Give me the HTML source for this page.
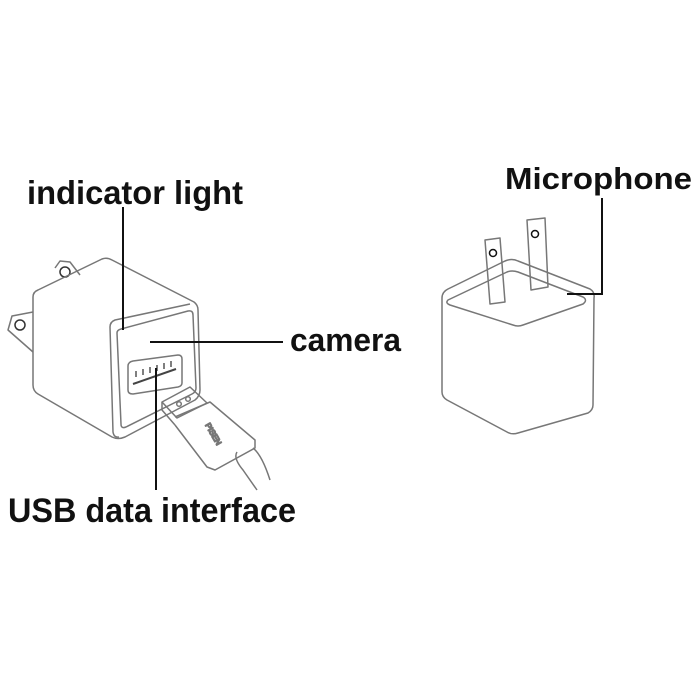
<!DOCTYPE html>
<html><head><style>body{margin:0;background:#fff}svg{display:block}text{font-family:"Liberation Sans",sans-serif;font-weight:bold;fill:#111}</style></head>
<body>
<svg width="700" height="700" viewBox="0 0 700 700" xmlns="http://www.w3.org/2000/svg">
<g fill="none" stroke="#777" stroke-width="1.5" stroke-linejoin="round">
<!-- left charger prongs -->
<path d="M55 268 L60 261 L70 262 L80 275"/>
<circle cx="65" cy="272" r="5" stroke="#333"/>
<path d="M33 312 L12 316 L8 330 L33 352"/>
<circle cx="20" cy="325" r="5" stroke="#333"/>
<!-- body -->
<path d="M33 297 Q33 292 38 290 L102 259 Q107 257 112 260 L194 302 Q198 305 198 310 L200 390 Q200 396 195 400 L125 437 Q118 440 112 437 L38 394 Q33 391 33 385 Z"/>
<path d="M110 327 Q110 322 115 320 L190 304"/>
<path d="M110 327 L113 432 Q114 438 119 437"/>
<path d="M117 333 Q117 330 121 329 L188 311 Q193 310 193 315 L196 388 Q196 392 192 394 L126 427 Q121 429 121 424 Z"/>
<!-- port -->
<path d="M128 366 Q128 362 133 361 L178 355 Q182 355 182 359 L182 383 Q182 386 178 387 L133 394 Q128 394 128 390 Z"/>
<path d="M133 384 L176 369" stroke="#444" stroke-width="2"/>
<path d="M136 377 l0 -6 M143 375 l0 -6 M150 373 l0 -6 M157 371 l0 -6 M164 369 l0 -6 M171 367 l0 -6" stroke="#555"/>
<!-- plug -->
<path d="M162 402 L190 387 L207 403 L177 418 Z"/>
<path d="M162 402 L162 410 L175 425"/>
<circle cx="179" cy="404" r="2.3"/><circle cx="188" cy="399" r="2.3"/>
<path d="M175 417 L210 402 L255 440 L255 448 L215 470 L207 467 L175 425"/>
<text x="205" y="425" transform="rotate(60 205 425)" style="font-size:8px;font-weight:normal;fill:#666">PISEN</text>
<path d="M237 452 Q233 458 243 470 L257 490 M253 448 Q262 455 270 480"/>
<!-- right charger -->
<path d="M442 298 Q442 292 448 289 L505 261 Q512 258 518 261 L590 289 Q595 292 594 298 L593 405 Q593 410 588 413 L518 433 Q512 435 507 432 L447 400 Q442 397 442 392 Z"/>
<path d="M448 300 L507 272 Q512 270 518 272 L583 297 Q588 300 583 304 L523 325 Q518 327 513 325 L450 305 Q445 303 448 300 Z"/>
<path d="M485 240 L500 238 L505 302 L490 304 Z"/><circle cx="493" cy="253" r="3.5" stroke="#111"/>
<path d="M527 220 L545 218 L548 287 L531 290 Z"/><circle cx="535" cy="234" r="3.5" stroke="#111"/>
</g>
<g stroke="#111" stroke-width="2" fill="none">
<path d="M123 207 L123 330"/>
<path d="M150 342 L283 342"/>
<path d="M156 368 L156 490"/>
<path d="M602 198 L602 294 L567 294"/>
</g>
<text x="27" y="204" textLength="216" lengthAdjust="spacingAndGlyphs" style="font-size:33px">indicator light</text>
<text x="290" y="351" textLength="111" lengthAdjust="spacingAndGlyphs" style="font-size:32px">camera</text>
<text x="8" y="522" textLength="288" lengthAdjust="spacingAndGlyphs" style="font-size:34px">USB data interface</text>
<text x="505" y="189" textLength="187" lengthAdjust="spacingAndGlyphs" style="font-size:31px">Microphone</text>
</svg>
</body></html>
